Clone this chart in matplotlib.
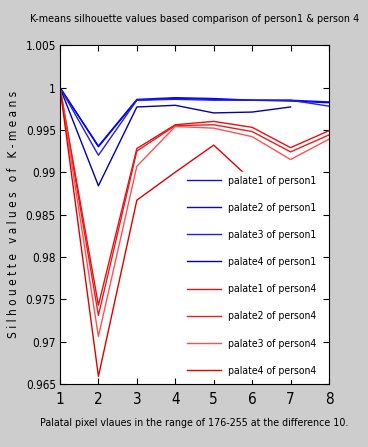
import numpy as np
import matplotlib
matplotlib.use("Agg")
import matplotlib.pyplot as plt
from matplotlib import font_manager
from matplotlib.font_manager import FontProperties

cond = [f.fname for f in font_manager.fontManager.ttflist if 'DejaVuSansCondensed.ttf' in f.fname]
FONT_FILE = cond[0] if cond else None


def fp(size):
    if FONT_FILE:
        return FontProperties(fname=FONT_FILE, size=size)
    return FontProperties(family='DejaVu Sans', size=size)


x = [1, 2, 3, 4, 5, 6, 7, 8]
nan = np.nan
p1_palate1 = [1.0, 0.9931, 0.9986, 0.9988, 0.9987, 0.9985, 0.9985, 0.9983]
p1_palate2 = [1.0, 0.9930, 0.9985, 0.9987, 0.9986, 0.9985, 0.9984, 0.9982]
p1_palate3 = [1.0, 0.9920, 0.9985, 0.9986, 0.9985, 0.9985, 0.9985, 0.9978]
p1_palate4 = [1.0, 0.9884, 0.9977, 0.9979, 0.9970, 0.9971, 0.9977, nan]
p4_palate1 = [1.0, 0.9743, 0.9928, 0.9956, 0.9960, 0.9953, 0.9929, 0.9949]
p4_palate2 = [1.0, 0.9731, 0.9925, 0.9955, 0.9956, 0.9948, 0.9924, 0.9944]
p4_palate3 = [1.0, 0.9706, 0.9907, 0.9954, 0.9952, 0.9942, 0.9915, 0.9939]
p4_palate4 = [1.0, 0.9659, 0.9867, 0.9900, 0.9932, 0.9890, nan, nan]

labels = ['palate1 of person1', 'palate2 of person1', 'palate3 of person1', 'palate4 of person1',
          'palate1 of person4', 'palate2 of person4', 'palate3 of person4', 'palate4 of person4']
xticklabels = ['1', '2', '3', '4', '5', '6', '7', '8']
yticks = [0.965, 0.97, 0.975, 0.98, 0.985, 0.99, 0.995, 1.0, 1.005]
yticklabels = ['0.965', '0.97', '0.975', '0.98', '0.985', '0.99', '0.995', '1', '1.005']
series = [p1_palate1, p1_palate2, p1_palate3, p1_palate4, p4_palate1, p4_palate2, p4_palate3, p4_palate4]
colors = ['#1010e0', '#0000ff', '#2020e8', '#0000b0', '#e81010', '#e02020', '#ff5050', '#e00000']

fig = plt.figure(figsize=(3.68, 4.47), dpi=100, facecolor='#cdcdcd')
ax = fig.add_axes([0.163, 0.141, 0.731, 0.758])
for s, c, l in zip(series, colors, labels):
    ax.plot(x, s, color=c, lw=1.0, label=l)

ax.set_xlim(1, 8)
ax.set_ylim(0.965, 1.005)
ax.set_yticks(yticks)
ax.set_yticklabels(yticklabels, fontproperties=fp(8.5))
ax.set_xticks(x)
ax.set_xticklabels(xticklabels, fontproperties=fp(11))
ax.tick_params(direction='in', top=True, right=True, length=4, width=0.8, pad=3)
ax.tick_params(axis='x', pad=6)
for sp in ax.spines.values():
    sp.set_linewidth(0.8)

renderer = fig.canvas.get_renderer()


def fit(textobj, target_px, base):
    textobj.set_fontproperties(fp(base))
    w = textobj.get_window_extent(renderer).width
    textobj.set_fontproperties(fp(base * target_px / w))


title = ax.set_title('K-means silhouette values based comparison of person1 & person 4', pad=17)
fit(title, 330, 9)
xl = ax.set_xlabel('Palatal pixel vlaues in the range of 176-255 at the difference 10.', labelpad=8)
fit(xl, 310, 9)
ax.set_ylabel('S i l h o u e t t e   v a l u e s   o f   K - m e a n s', fontproperties=fp(8.5), labelpad=4)

probe = fig.text(0, 0, labels[0], fontproperties=fp(9))
lw_px = probe.get_window_extent(renderer).width
probe.remove()
leg_size = 9 * 88 / lw_px
leg = ax.legend(loc='lower right', frameon=True, prop=fp(leg_size), handlelength=3.3, labelspacing=1.66,
                borderpad=0.3, handletextpad=0.7, bbox_to_anchor=(0.985, 0.0))
leg.get_frame().set_edgecolor('white')
leg.get_frame().set_facecolor('white')
leg.get_frame().set_alpha(1.0)
leg.get_frame().set_boxstyle('square', pad=0)

fig.savefig('out.png', dpi=100, facecolor=fig.get_facecolor())
